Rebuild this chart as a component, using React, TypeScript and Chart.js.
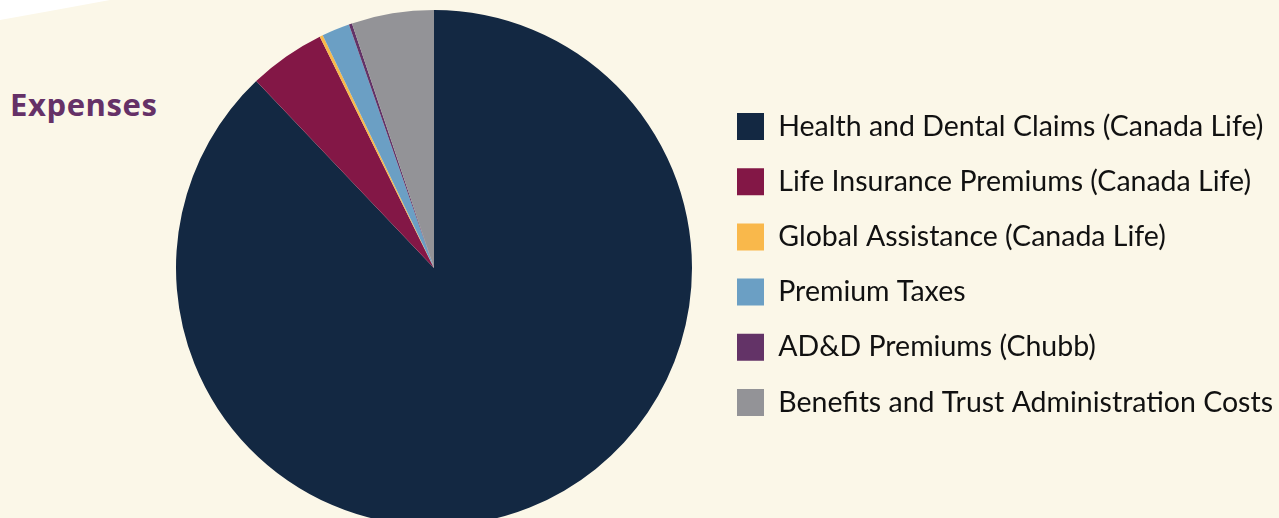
import React, { useEffect, useRef } from "react";
import { Chart, registerables } from "chart.js";

Chart.register(...registerables);

const categories = [
  "Health and Dental Claims (Canada Life)",
  "Life Insurance Premiums (Canada Life)",
  "Global Assistance (Canada Life)",
  "Premium Taxes",
  "AD&D Premiums (Chubb)",
  "Benefits and Trust Administration Costs",
];
const values = [87.9, 4.8, 0.2, 1.75, 0.2, 5.15];
const colors = ["#132842", "#831746", "#f9b84b", "#6b9fc4", "#633367", "#939397"];

const FONT_FAMILY = "Lato, 'Noto Sans', sans-serif";
const FONT_SIZE = 28.5;
const BOX = 27;
const PAD = 26.7;
const CANVAS_H = 526;

export default function App() {
  const ref = useRef<HTMLCanvasElement | null>(null);

  useEffect(() => {
    const canvas = ref.current!;
    const m = document.createElement("canvas").getContext("2d")!;
    m.font = `normal ${FONT_SIZE}px ${FONT_FAMILY}`;
    let maxW = 0;
    for (const c of categories) maxW = Math.max(maxW, m.measureText(c).width);
    const legendLeft = 737 - PAD;
    const W = Math.round(legendLeft + PAD + BOX + FONT_SIZE / 2 + maxW + 10);
    canvas.width = W;
    canvas.height = CANVAS_H;
    canvas.style.width = W + "px";
    canvas.style.height = CANVAS_H + "px";
    const padLeft = 2 * 434 - legendLeft;

    Chart.defaults.font.family = FONT_FAMILY;
    const chart = new Chart(canvas, {
      type: "pie",
      data: {
        labels: categories,
        datasets: [
          {
            data: values,
            backgroundColor: colors,
            borderColor: colors,
            borderWidth: 0,
          },
        ],
      },
      options: {
        responsive: false,
        animation: false,
        layout: { padding: { left: padLeft, top: 3, right: 0, bottom: 0 } },
        plugins: {
          tooltip: { enabled: false },
          title: {
            display: true,
            text: " ",
            padding: 0,
            font: { size: 7, lineHeight: 1 },
          },
          legend: {
            position: "right",
            maxWidth: 3000,
            labels: {
              boxWidth: BOX,
              boxHeight: BOX,
              padding: PAD,
              color: "#111111",
              font: { size: FONT_SIZE, family: FONT_FAMILY },
            },
          },
        },
      },
    });
    return () => chart.destroy();
  }, []);

  return (
    <div
      style={{
        position: "fixed",
        left: 0,
        top: 0,
        width: 1279,
        height: 518,
        background: "#ffffff",
        overflow: "hidden",
      }}
    >
      <div
        style={{
          position: "absolute",
          left: 0,
          right: 0,
          top: 0,
          bottom: 0,
          background: "#fbf7e8",
          clipPath: "polygon(0 20px, 50px 11px, 110px 0, 100% 0, 100% 100%, 0 100%)",
        }}
      />
      <div
        style={{
          position: "absolute",
          left: 10,
          top: 88,
          fontFamily: "'Open Sans', sans-serif",
          fontWeight: 700,
          fontSize: 31,
          letterSpacing: "0.6px",
          lineHeight: "32px",
          color: "#653167",
          whiteSpace: "nowrap",
        }}
      >
        Expenses
      </div>
      <canvas ref={ref} style={{ position: "absolute", left: 0, top: 0 }} />
    </div>
  );
}
